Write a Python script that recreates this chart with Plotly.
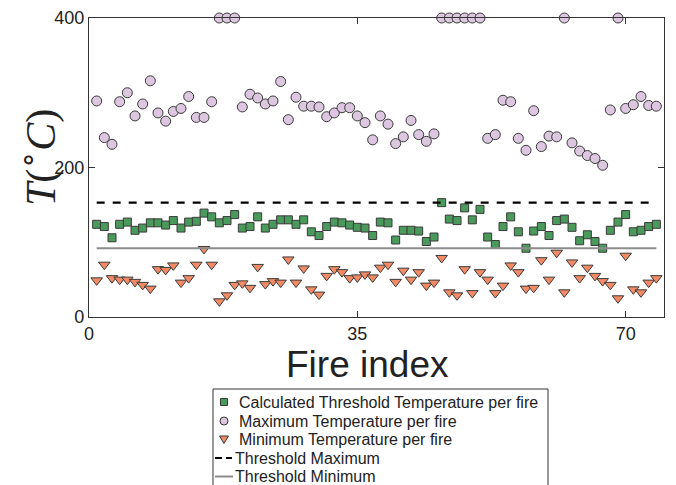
import plotly.graph_objects as go

fire_index = list(range(1, 75))

threshold_calc = [124, 121, 106, 124, 127, 116, 119, 126, 126, 123,
                  129, 119, 127, 128, 139, 134, 126, 129, 137, 119,
                  121, 134, 119, 124, 130, 130, 124, 130, 114, 109,
                  121, 127, 126, 123, 120, 119, 109, 127, 126, 103,
                  116, 116, 115, 101, 107, 153, 131, 129, 146, 130,
                  144, 107, 97, 121, 134, 114, 92, 115, 121, 109,
                  129, 131, 120, 102, 110, 101, 92, 116, 127, 137,
                  114, 116, 121, 124]

max_temp = [289, 240, 231, 288, 300, 269, 285, 316, 273, 262,
            275, 279, 295, 267, 267, 288, 400, 400, 400, 281,
            298, 293, 285, 289, 315, 264, 294, 282, 282, 281,
            268, 273, 280, 280, 269, 260, 237, 269, 258, 232,
            241, 263, 244, 235, 245, 400, 400, 400, 400, 400,
            400, 239, 244, 290, 288, 239, 223, 276, 228, 242,
            241, 400, 233, 222, 216, 212, 203, 277, 400, 279,
            284, 295, 283, 282]

min_temp = [49, 70, 52, 50, 50, 47, 43, 38, 64, 63,
            69, 46, 52, 70, 91, 70, 21, 29, 43, 45,
            39, 67, 44, 48, 46, 77, 46, 65, 37, 30,
            55, 64, 60, 52, 53, 57, 53, 66, 70, 47,
            62, 50, 60, 42, 46, 79, 33, 29, 64, 32,
            60, 50, 32, 42, 69, 60, 38, 39, 76, 50,
            86, 33, 73, 52, 66, 55, 48, 43, 25, 82,
            37, 33, 46, 52]

threshold_x = [1, 74]
threshold_max = [153, 153]
threshold_min = [92, 92]

x_ticks = [0, 35, 70]
y_ticks = [0, 200, 400]

series_names = ["Calculated Threshold Temperature per fire",
                "Maximum Temperature per fire",
                "Minimum Temperature per fire",
                "Threshold Maximum",
                "Threshold Minimum"]

GREEN = "#4a9a5c"
LILAC = "#dcc6e0"
ORANGE = "#f28a66"
EDGE = "#3a3a3a"
edge = dict(color=EDGE, width=1)

W, H = 676, 485
ML, MR, MT, MB = 89, 12, 18, 168
PW, PH = W - ML - MR, H - MT - MB


def px(x):
    return (x - ML) / PW


def py(y):
    return (H - MB - y) / PH


fig = go.Figure()
fig.add_trace(go.Scatter(
    x=fire_index, y=threshold_calc, mode="markers", name=series_names[0],
    marker=dict(symbol="square", size=8, color=GREEN, line=edge),
    cliponaxis=False))
fig.add_trace(go.Scatter(
    x=fire_index, y=max_temp, mode="markers", name=series_names[1],
    marker=dict(symbol="circle", size=10, color=LILAC, line=edge),
    cliponaxis=False))
fig.add_trace(go.Scatter(
    x=fire_index, y=min_temp, mode="markers", name=series_names[2],
    marker=dict(symbol="triangle-down", size=10, color=ORANGE, line=edge),
    cliponaxis=False))
fig.add_trace(go.Scatter(
    x=threshold_x, y=threshold_max, mode="lines", name=series_names[3],
    line=dict(color="black", width=2.2, dash="8px,8px")))
fig.add_trace(go.Scatter(
    x=threshold_x, y=threshold_min, mode="lines", name=series_names[4],
    line=dict(color="#8c8c8c", width=2)))

axis_common = dict(showline=True, linecolor="#333", linewidth=1.2, mirror="ticks",
                   ticks="inside", ticklen=6, tickcolor="#333", tickwidth=1.2,
                   showgrid=False, zeroline=False,
                   tickfont=dict(family="Liberation Sans", size=18, color="#222"))

# ---- hand-built legend box (compact, like the reference) ----
shapes = []
annotations = []
box_l, box_r, box_t, box_b = 213, 548, 389, 520
shapes.append(dict(type="rect", xref="paper", yref="paper",
                   x0=px(box_l), x1=px(box_r), y0=py(box_b), y1=py(box_t),
                   line=dict(color="#333", width=1), fillcolor="white", layer="above"))
rows = [402, 421, 439.5, 458, 476.5]
sx = 224
# square
shapes.append(dict(type="rect", xref="paper", yref="paper",
                   x0=px(sx - 3.5), x1=px(sx + 3.5), y0=py(rows[0] + 3.5), y1=py(rows[0] - 3.5),
                   line=edge, fillcolor=GREEN, layer="above"))
# circle
shapes.append(dict(type="circle", xref="paper", yref="paper",
                   x0=px(sx - 4), x1=px(sx + 4), y0=py(rows[1] + 4), y1=py(rows[1] - 4),
                   line=edge, fillcolor=LILAC, layer="above"))
# triangle down
tri = "M {:.5f},{:.5f} L {:.5f},{:.5f} L {:.5f},{:.5f} Z".format(
    px(sx - 4.5), py(rows[2] - 3.5), px(sx + 4.5), py(rows[2] - 3.5), px(sx), py(rows[2] + 4))
shapes.append(dict(type="path", xref="paper", yref="paper", path=tri,
                   line=edge, fillcolor=ORANGE, layer="above"))
# dashed
shapes.append(dict(type="line", xref="paper", yref="paper",
                   x0=px(215), x1=px(232), y0=py(rows[3]), y1=py(rows[3]),
                   line=dict(color="black", width=2, dash="7px,4px"), layer="above"))
# solid
shapes.append(dict(type="line", xref="paper", yref="paper",
                   x0=px(215), x1=px(233), y0=py(rows[4]), y1=py(rows[4]),
                   line=dict(color="#8c8c8c", width=2), layer="above"))

text_x = [237, 237, 237, 233, 233]
for name, ty, tx in zip(series_names, rows, text_x):
    annotations.append(dict(text=name, xref="paper", yref="paper",
                            x=px(tx), y=py(ty), xanchor="left", yanchor="middle",
                            showarrow=False,
                            font=dict(family="Liberation Sans", size=16, color="#222")))

# axis titles as annotations for exact placement
annotations.append(dict(text="Fire index", xref="paper", yref="paper",
                        x=px(367), y=py(365), xanchor="center", yanchor="middle",
                        showarrow=False,
                        font=dict(family="Liberation Sans", size=37, color="#222")))
annotations.append(dict(text="<i>T</i>(<sup>∘</sup><i>C</i>)", xref="paper", yref="paper",
                        x=px(38), y=py(158), xanchor="center", yanchor="middle",
                        textangle=-90, showarrow=False,
                        font=dict(family="Liberation Serif", size=42, color="#222")))

fig.update_layout(
    width=W, height=H,
    margin=dict(l=ML, r=MR, t=MT, b=MB, autoexpand=False),
    paper_bgcolor="white", plot_bgcolor="white",
    xaxis=dict(range=[0, 75], tickvals=x_ticks, **axis_common),
    yaxis=dict(range=[0, 400], tickvals=y_ticks, **axis_common),
    shapes=shapes, annotations=annotations,
    showlegend=False,
)

fig.write_html("out.html")
